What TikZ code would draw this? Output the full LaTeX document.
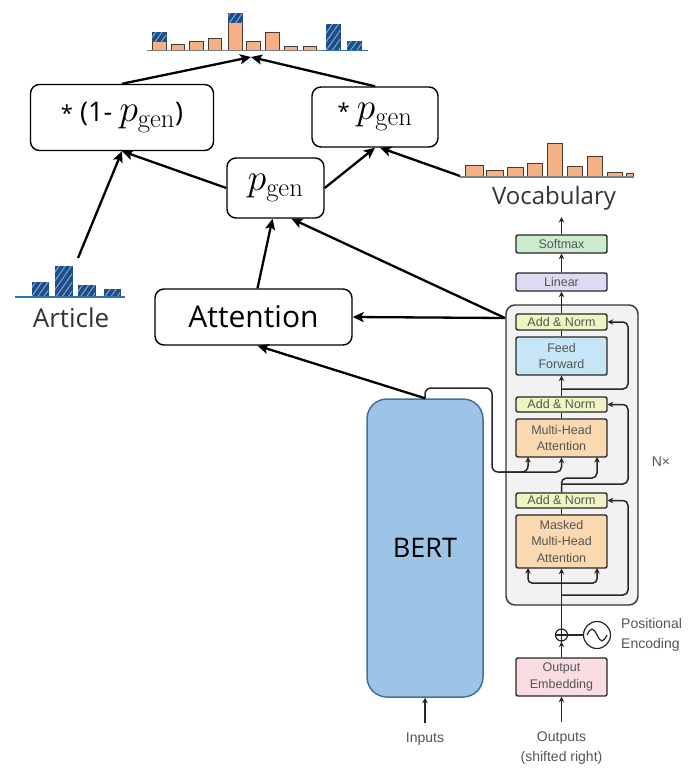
\RequirePackage{fix-cm}
\documentclass[tikz,border=0pt]{standalone}
\usepackage[no-math]{fontspec}
\setmainfont{Open Sans}
\newfontfamily\hv{Liberation Sans}
\usetikzlibrary{arrows.meta,patterns.meta}
\definecolor{barblue}{HTML}{1F4E86}
\definecolor{hatch}{HTML}{7FA7D8}
\definecolor{barorg}{HTML}{F4B183}
\definecolor{barline}{HTML}{4A3A30}
\definecolor{baseg}{HTML}{7F7F7F}
\definecolor{baseb}{HTML}{2E75B6}
\definecolor{bertfill}{HTML}{9DC3E6}
\definecolor{bertline}{HTML}{41719C}
\definecolor{blockfill}{HTML}{F2F2F2}
\definecolor{anfill}{HTML}{F0F4C3}
\definecolor{fffill}{HTML}{C6E6F5}
\definecolor{mhafill}{HTML}{FBD9B0}
\definecolor{smfill}{HTML}{CDEBCF}
\definecolor{linfill}{HTML}{DCDBF2}
\definecolor{embfill}{HTML}{F9DDE3}
\definecolor{dtext}{HTML}{555555}
\newcommand\mpg[1]{\mbox{\fontsize{#1}{#1}\selectfont$p_{\mathrm{gen}}$}}
\newcommand\smallstar{{\fontsize{22}{22}\selectfont *}}
\begin{document}
\begin{tikzpicture}[x=1pt,y=-1pt,
  big/.style={draw=black, line width=1.4pt, rounded corners=9pt, fill=white, inner sep=0pt},
  conn/.style={line width=2.3pt, -{Stealth[length=11pt,width=10pt,inset=2.5pt]}},
  dbox/.style={draw=black!85, line width=1.4pt, rounded corners=2pt, minimum width=91pt, inner sep=0pt, align=center, text=dtext, font=\hv\fontsize{12.5}{16.5}\selectfont},
  dline/.style={draw=black!85, line width=1.5pt},
  darr/.style={dline, -{Stealth[length=5.5pt,width=5.5pt]}},
  lab/.style={text=dtext, font=\hv\fontsize{14}{20}\selectfont, inner sep=0pt},
  obar/.style={fill=barorg, draw=barline, line width=1pt},
  bbar/.style={fill=barblue, draw=barblue, line width=1pt, postaction={pattern={Lines[angle=55,distance=5pt,line width=1pt]}, pattern color=hatch}},
]
\useasboundingbox (0,0) rectangle (699,769);

% ---------- top histogram ----------
\foreach \a/\b/\t in {152/166/41, 171/184/44, 189/203/41, 208/221/38, 228/242/22, 246/260/41, 265/279/32, 284/297/46, 303/316/46}
  \draw[obar] (\a,50.5) rectangle (\b,\t);
\foreach \a/\b/\t/\u in {152/166/32/41, 228/242/13/22, 326/340/24/50.5, 347/361/41/50.5}
  \draw[bbar] (\a,\u) rectangle (\b,\t);
\draw[baseg, line width=1.3pt] (147,50.5) -- (322,50.5);
\draw[baseb, line width=1.3pt] (322,50.5) -- (368,50.5);

% ---------- article histogram ----------
\foreach \a/\b/\t in {32/48/282, 55/72/266, 78/95/285, 104/120/289}
  \draw[bbar] (\a,297) rectangle (\b,\t);
\draw[baseb, line width=1.5pt] (15,297) -- (125,297);
\node[font=\fontsize{26}{30}\selectfont, text=black!80] (art) at (71,318) {Article};

% ---------- vocabulary histogram ----------
\foreach \a/\b/\t in {465/483/165, 486/503/170, 507/523/167, 527/542/163, 547/562/143, 567/582/166, 587/602/156, 607/622/172, 626/633/173}
  \draw[obar] (\a,177) rectangle (\b,\t);
\draw[baseg, line width=1.5pt] (460,177) -- (634,177);
\node[font=\fontsize{24}{28}\selectfont, text=black!80] (voc) at (554,198) {Vocabulary};

% ---------- top boxes ----------
\node[big, minimum width=183pt, minimum height=66pt, font=\fontsize{27}{30}\selectfont] (onem) at (122,117.5) {\smallstar\ (1-\ \mpg{38})};
\node[big, minimum width=126pt, minimum height=60pt, font=\fontsize{27}{30}\selectfont] (pg2) at (375,117) {\smallstar\ \mpg{38}};
\node[big, minimum width=97pt, minimum height=60pt] (pg) at (275.5,188) {\mpg{38}};
\node[big, minimum width=197pt, minimum height=56pt, font=\fontsize{30}{34}\selectfont] (att) at (253.5,317) {Attention};

% ---------- BERT ----------
\node[draw=bertline, fill=bertfill, line width=1.5pt, rounded corners=20pt, minimum width=116pt, minimum height=298pt, font=\fontsize{27}{30}\selectfont] (bert) at (425,548) {BERT};

% ---------- decoder ----------
\node[draw=black!80, fill=blockfill, line width=1.4pt, rounded corners=9pt, minimum width=132pt, minimum height=300pt] (blk) at (572,455) {};
\node[dbox, fill=smfill, minimum height=18pt] (sm) at (561.5,244) {Softmax};
\node[dbox, fill=linfill, minimum height=18pt] (lin) at (561.5,282) {Linear};
\node[dbox, fill=anfill, minimum height=16pt] (an1) at (561.5,322) {Add \& Norm};
\node[dbox, fill=fffill, minimum height=38pt] (ff) at (561.5,356) {Feed\\Forward};
\node[dbox, fill=anfill, minimum height=15pt] (an2) at (561.5,404.5) {Add \& Norm};
\node[dbox, fill=mhafill, minimum height=38pt] (mha) at (561.5,438) {Multi-Head\\Attention};
\node[dbox, fill=anfill, minimum height=15pt] (an3) at (561.5,500.5) {Add \& Norm};
\node[dbox, fill=mhafill, minimum height=53pt] (mmha) at (561.5,541.5) {Masked\\Multi-Head\\Attention};
\node[dbox, fill=embfill, minimum height=38pt] (emb) at (561.5,677) {Output\\Embedding};
\node[circle, draw=black!85, line width=1.2pt, minimum size=12pt, inner sep=0pt] (plus) at (561.5,635) {};
\draw[black!85, line width=1.2pt] (plus.north) -- (plus.south) (plus.west) -- (plus.east);
\node[circle, draw=black!85, line width=1.2pt, minimum size=27pt, inner sep=0pt] (pe) at (597,635) {};
\draw[black!85, line width=1.2pt] (587,635) sin (592,629) cos (597,635) sin (602,641) cos (607,635);
\draw[dline] (plus.east) -- (pe.west);

\node[lab, anchor=west, align=left] (posl) at (621,635) {Positional\\Encoding};
\node[lab] (nx) at (661,462) {N×};
\node[lab] (inl) at (425,739) {Inputs};
\node[lab, align=center] (outl) at (561.5,748) {Outputs\\(shifted right)};

\coordinate (inTop) at (425,723);
\coordinate (outTop) at (561.5,722);
\coordinate (vocB) at (561.5,217);
\coordinate (mb) at (561.5,583);
\coordinate (r3) at (561.5,595);
\coordinate (q1) at (561.5,478);
\coordinate (r2) at (561.5,484);
\coordinate (r1) at (561.5,389);
\coordinate (e1) at (500,472);

\draw[darr] (inTop) -- (bert.south);
\draw[darr] (outTop) -- (emb.south);
\draw[darr] (emb.north) -- (plus.south);
\draw[darr] (plus.north) -- (mmha.south);
\draw[darr, rounded corners=4pt] (mb) -| (528,568);
\draw[darr, rounded corners=4pt] (mb) -| (597,568);
\draw[darr, rounded corners=5pt] (r3) -| (628,500.5) -- (an3.east);
\draw[dline] (mmha.north) -- (an3.south);
\draw[darr, rounded corners=5pt] (an3.north) -- (q1) -| (597,457);
\draw[darr, rounded corners=5pt] (r2) -| (628,404.5) -- (an2.east);
\draw[dline] (mha.north) -- (an2.south);
\draw[darr] (an2.north) -- (ff.south);
\draw[darr, rounded corners=5pt] (r1) -| (628,322) -- (an1.east);
\draw[dline] (ff.north) -- (an1.south);
\draw[darr] (an1.north) -- (lin.south);
\draw[darr] (lin.north) -- (sm.south);
\draw[darr] (sm.north) -- (vocB);
\draw[darr, rounded corners=6pt] (bert.north) |- (492,388) |- (528,472) -- (528,457);
\draw[darr, rounded corners=5pt] (e1) -| (mha.south);

% ---------- main connectors ----------
\coordinate (hist) at (251,57);
\coordinate (artT) at (78,258);
\coordinate (vocL) at (460,176);
\coordinate (dec) at (505,318);
\draw[conn] (onem.north) -- (hist);
\draw[conn] (pg2.north) -- (hist);
\draw[conn] (artT) -- (onem.south);
\draw[conn] (pg.west) -- (onem.south);
\draw[conn] (pg.east) -- (pg2.south);
\draw[conn] (vocL) -- ([xshift=5pt]pg2.south);
\draw[conn] ([xshift=4pt]att.north) -- ([xshift=-3pt]pg.south);
\draw[conn] (dec) -- (att.east);
\draw[conn] (dec) -- ([xshift=16pt]pg.south);
\draw[conn] (bert.north) -- ([xshift=4pt]att.south);
\end{tikzpicture}
\end{document}
